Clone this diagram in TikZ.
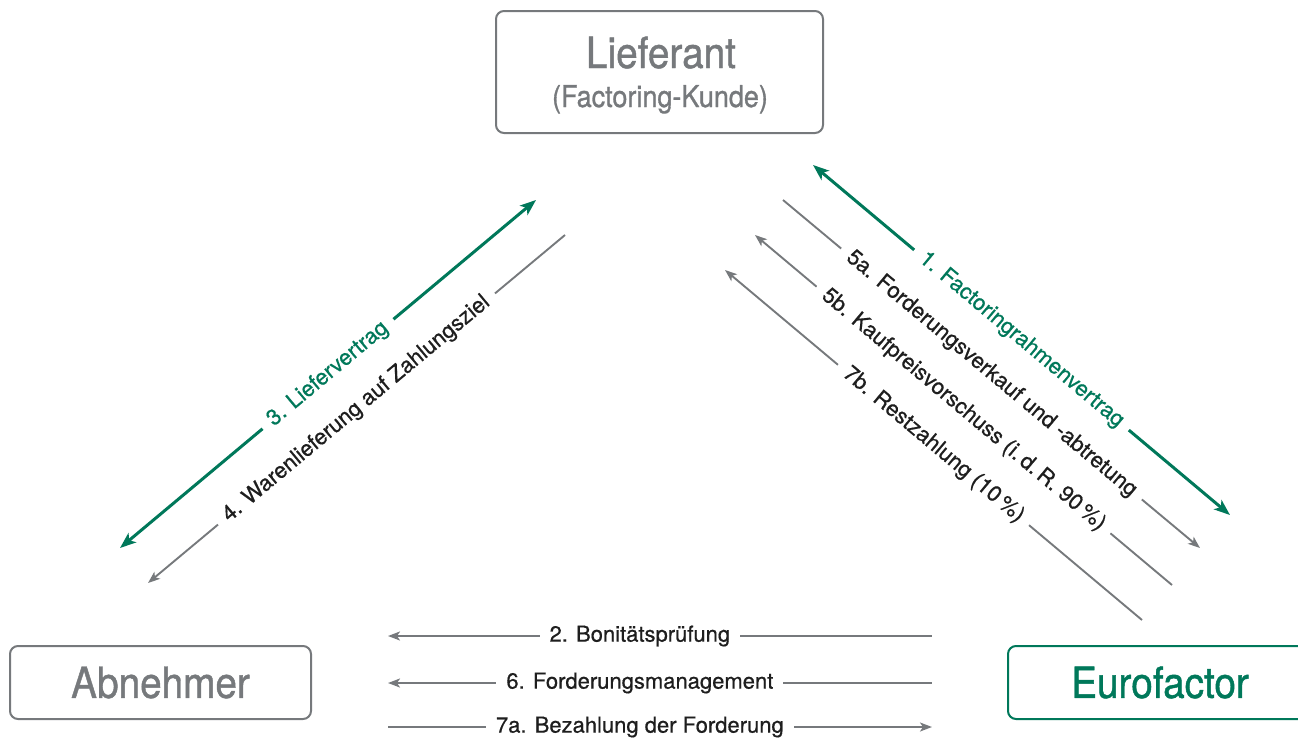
\documentclass[tikz,border=0pt]{standalone}
\usepackage{fontspec}
\setmainfont{TeX Gyre Heros}
\newfontfamily\boxfont[FakeStretch=0.9, FakeBold=1]{TeX Gyre Heros}
\newfontfamily\lblfont[FakeBold=0.6]{TeX Gyre Heros}
\usetikzlibrary{arrows.meta}

\definecolor{efgreen}{HTML}{00785A}
\definecolor{efgray}{HTML}{76797C}
\definecolor{eftext}{HTML}{1E1E1E}

\begin{document}
\begin{tikzpicture}[x=1pt, y=-1pt,
    party/.style={draw=efgray, line width=2pt, rounded corners=8pt, text=efgray, inner sep=0pt,
        font=\boxfont\fontsize{43}{46}\selectfont},
    partytext/.style={text=efgray, inner sep=0pt, anchor=base},
    flow/.style={draw=efgray, line width=1.9pt},
    contract/.style={draw=efgreen, line width=3pt,
        {Stealth[length=16pt, width=12pt, inset=4pt]}-{Stealth[length=16pt, width=12pt, inset=4pt]}},
    tohead/.style={-{Stealth[length=12pt, width=9pt, inset=3pt]}},
    fromhead/.style={{Stealth[length=12pt, width=9pt, inset=3pt]}-},
    lbl/.style={fill=white, text=eftext, inner xsep=10pt, inner ysep=2pt,
        font=\lblfont\fontsize{22}{24}\selectfont},
    glbl/.style={lbl, text=efgreen}]

    \useasboundingbox (0,0) rectangle (1298,737);

    % the three parties
    \node[party, minimum width=327pt, minimum height=122pt] (lieferant) at (659.5,72) {};
    \node[partytext, font=\boxfont\fontsize{43}{46}\selectfont] (liefname) at (661,68) {Lieferant};
    \node[partytext, font=\boxfont\fontsize{30}{34}\selectfont] (liefsub) at (660,107) {(Factoring-Kunde)};
    \node[party, minimum width=301pt, minimum height=73pt] (abnehmer) at (160.5,682.5) {Abnehmer};
    \node[party, draw=efgreen, text=efgreen, minimum width=304pt, minimum height=73pt] (eurofactor) at (1160,682.5) {Eurofactor};

    % left side: Lieferant -- Abnehmer
    \coordinate (l3a) at (120,548);  \coordinate (l3b) at (536,200);
    \coordinate (l4a) at (148,583);  \coordinate (l4b) at (565,235);
    \draw[contract] (l3a) -- node[glbl, sloped] {3. Liefervertrag} (l3b);
    \draw[flow, fromhead] (l4a) -- node[lbl, sloped] {4. Warenlieferung auf Zahlungsziel} (l4b);

    % right side: Lieferant -- Eurofactor
    \coordinate (r1a) at (813,165);  \coordinate (r1b) at (1230,515);
    \coordinate (r5a) at (783,200);  \coordinate (r5b) at (1200,548);
    \coordinate (r6a) at (755,235);  \coordinate (r6b) at (1172,585);
    \coordinate (r7a) at (725,270);  \coordinate (r7b) at (1142,620);
    \draw[contract] (r1a) -- node[glbl, sloped] {1. Factoringrahmenvertrag} (r1b);
    \draw[flow, tohead] (r5a) -- node[lbl, sloped] {5a. Forderungsverkauf und -abtretung} (r5b);
    \draw[flow, fromhead] (r6a) -- node[lbl, sloped] {5b. Kaufpreisvorschuss (i.\,d.\,R. 90\,\%)} (r6b);
    \draw[flow, fromhead] (r7a) -- node[lbl, sloped] {7b. Restzahlung (10\,\%)} (r7b);

    % bottom: Eurofactor -- Abnehmer
    \coordinate (b2a) at (388,636);  \coordinate (b2b) at (932,636);
    \coordinate (b6a) at (388,683);  \coordinate (b6b) at (932,683);
    \coordinate (b7a) at (388,727);  \coordinate (b7b) at (932,727);
    \draw[flow, fromhead] (b2a) -- node[lbl, pos=0.463] {2. Bonitätsprüfung} (b2b);
    \draw[flow, fromhead] (b6a) -- node[lbl, pos=0.463] {6. Forderungsmanagement} (b6b);
    \draw[flow, tohead] (b7a) -- node[lbl, pos=0.463] {7a. Bezahlung der Forderung} (b7b);
\end{tikzpicture}
\end{document}
